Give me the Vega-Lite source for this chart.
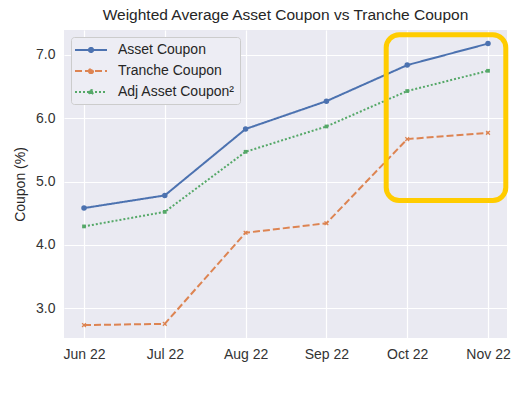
{
  "$schema": "https://vega.github.io/schema/vega-lite/v6.json",
  "width": 443,
  "height": 308,
  "autosize": {"type": "none"},
  "padding": {"left": 64, "top": 30, "right": 11, "bottom": 59},
  "background": "white",
  "title": {
    "text": "Weighted Average Asset Coupon vs Tranche Coupon",
    "fontSize": 15.5,
    "font": "Liberation Sans",
    "fontWeight": "normal",
    "color": "#262626",
    "offset": 7
  },
  "datasets": {
    "coupons": [
      {"month": "Jun 22", "idx": 0, "series": "Asset Coupon", "value": 4.58},
      {"month": "Jul 22", "idx": 1, "series": "Asset Coupon", "value": 4.78},
      {"month": "Aug 22", "idx": 2, "series": "Asset Coupon", "value": 5.83},
      {"month": "Sep 22", "idx": 3, "series": "Asset Coupon", "value": 6.27},
      {"month": "Oct 22", "idx": 4, "series": "Asset Coupon", "value": 6.84},
      {"month": "Nov 22", "idx": 5, "series": "Asset Coupon", "value": 7.18},
      {"month": "Jun 22", "idx": 0, "series": "Tranche Coupon", "value": 2.73},
      {"month": "Jul 22", "idx": 1, "series": "Tranche Coupon", "value": 2.75},
      {"month": "Aug 22", "idx": 2, "series": "Tranche Coupon", "value": 4.19},
      {"month": "Sep 22", "idx": 3, "series": "Tranche Coupon", "value": 4.34},
      {"month": "Oct 22", "idx": 4, "series": "Tranche Coupon", "value": 5.67},
      {"month": "Nov 22", "idx": 5, "series": "Tranche Coupon", "value": 5.77},
      {"month": "Jun 22", "idx": 0, "series": "Adj Asset Coupon²", "value": 4.29},
      {"month": "Jul 22", "idx": 1, "series": "Adj Asset Coupon²", "value": 4.52},
      {"month": "Aug 22", "idx": 2, "series": "Adj Asset Coupon²", "value": 5.47},
      {"month": "Sep 22", "idx": 3, "series": "Adj Asset Coupon²", "value": 5.87},
      {"month": "Oct 22", "idx": 4, "series": "Adj Asset Coupon²", "value": 6.43},
      {"month": "Nov 22", "idx": 5, "series": "Adj Asset Coupon²", "value": 6.75}
    ],
    "highlight": [
      {"start": 3.74, "end": 5.22, "top": 7.32, "bottom": 4.70}
    ]
  },
  "config": {
    "view": {"fill": "#EAEAF2", "stroke": null},
    "axis": {
      "domain": false,
      "ticks": false,
      "grid": true,
      "gridColor": "#FFFFFF",
      "gridWidth": 1.2,
      "labelFont": "Liberation Sans",
      "labelFontSize": 14,
      "labelColor": "#333333",
      "titleFont": "Liberation Sans",
      "titleFontSize": 14,
      "titleColor": "#262626",
      "titleFontWeight": "normal"
    },
    "legend": {
      "labelFont": "Liberation Sans",
      "labelFontSize": 14,
      "labelColor": "#262626",
      "fillColor": "#EDEDF4",
      "strokeColor": "#CCCCCC",
      "cornerRadius": 3,
      "padding": 5,
      "rowPadding": 6,
      "symbolOffset": 7,
      "labelOffset": 19,
      "symbolStrokeWidth": 2
    }
  },
  "layer": [
    {
      "data": {"name": "coupons"},
      "mark": {"type": "line", "strokeWidth": 2},
      "encoding": {
        "x": {
          "field": "idx",
          "type": "quantitative",
          "scale": {"domain": [-0.2475, 5.235], "nice": false, "zero": false},
          "axis": {
            "values": [0, 1, 2, 3, 4, 5],
            "labelExpr": "['Jun 22','Jul 22','Aug 22','Sep 22','Oct 22','Nov 22'][datum.value]",
            "title": null,
            "labelPadding": 9
          }
        },
        "y": {
          "field": "value",
          "type": "quantitative",
          "scale": {"domain": [2.526, 7.395], "nice": false, "zero": false},
          "axis": {
            "values": [3, 4, 5, 6, 7],
            "format": ".1f",
            "title": "Coupon (%)",
            "labelPadding": 9,
            "titlePadding": 8
          }
        },
        "color": {
          "field": "series",
          "type": "nominal",
          "scale": {
            "domain": ["Asset Coupon", "Tranche Coupon", "Adj Asset Coupon²"],
            "range": ["#4C72B0", "#DD8452", "#55A868"]
          },
          "legend": {
            "title": null,
            "orient": "top-left",
            "offset": 7,
            "symbolType": "M-2.286,0H2.286M-0.3,0A0.3,0.3 0 1,0 0.3,0A0.3,0.3 0 1,0 -0.3,0Z",
            "symbolSize": 196,
            "encode": {"symbols": {"update": {"fill": {"scale": "color", "field": "value"}}}}
          }
        },
        "strokeDash": {
          "field": "series",
          "type": "nominal",
          "scale": {
            "domain": ["Asset Coupon", "Tranche Coupon", "Adj Asset Coupon²"],
            "range": [[1, 0], [7, 3], [2, 2]]
          },
          "legend": {
            "title": null,
            "orient": "top-left",
            "offset": 7,
            "symbolType": "M-2.286,0H2.286M-0.3,0A0.3,0.3 0 1,0 0.3,0A0.3,0.3 0 1,0 -0.3,0Z",
            "symbolSize": 196,
            "encode": {"symbols": {"update": {"fill": {"scale": "color", "field": "value"}}}}
          }
        },
        "order": {"field": "idx"}
      }
    },
    {
      "data": {"name": "coupons"},
      "transform": [{"filter": "datum.series === 'Asset Coupon'"}],
      "mark": {"type": "point", "filled": true, "opacity": 1, "shape": "circle", "size": 30, "fill": "#4C72B0"},
      "encoding": {
        "x": {"field": "idx", "type": "quantitative"},
        "y": {"field": "value", "type": "quantitative"}
      }
    },
    {
      "data": {"name": "coupons"},
      "transform": [{"filter": "datum.series === 'Tranche Coupon'"}],
      "mark": {"type": "point", "filled": true, "opacity": 1, "shape": "M-1,-0.6L-0.6,-1L0,-0.4L0.6,-1L1,-0.6L0.4,0L1,0.6L0.6,1L0,0.4L-0.6,1L-1,0.6L-0.4,0Z", "size": 22, "fill": "#DD8452"},
      "encoding": {
        "x": {"field": "idx", "type": "quantitative"},
        "y": {"field": "value", "type": "quantitative"}
      }
    },
    {
      "data": {"name": "coupons"},
      "transform": [{"filter": "datum.series === 'Adj Asset Coupon²'"}],
      "mark": {"type": "point", "filled": true, "opacity": 1, "shape": "square", "size": 14, "fill": "#55A868"},
      "encoding": {
        "x": {"field": "idx", "type": "quantitative"},
        "y": {"field": "value", "type": "quantitative"}
      }
    },
    {
      "data": {"name": "highlight"},
      "mark": {"type": "rect", "filled": false, "stroke": "#FFCC00", "strokeWidth": 5, "cornerRadius": 13},
      "encoding": {
        "x": {"field": "start", "type": "quantitative"},
        "x2": {"field": "end"},
        "y": {"field": "top", "type": "quantitative"},
        "y2": {"field": "bottom"}
      }
    }
  ]
}
